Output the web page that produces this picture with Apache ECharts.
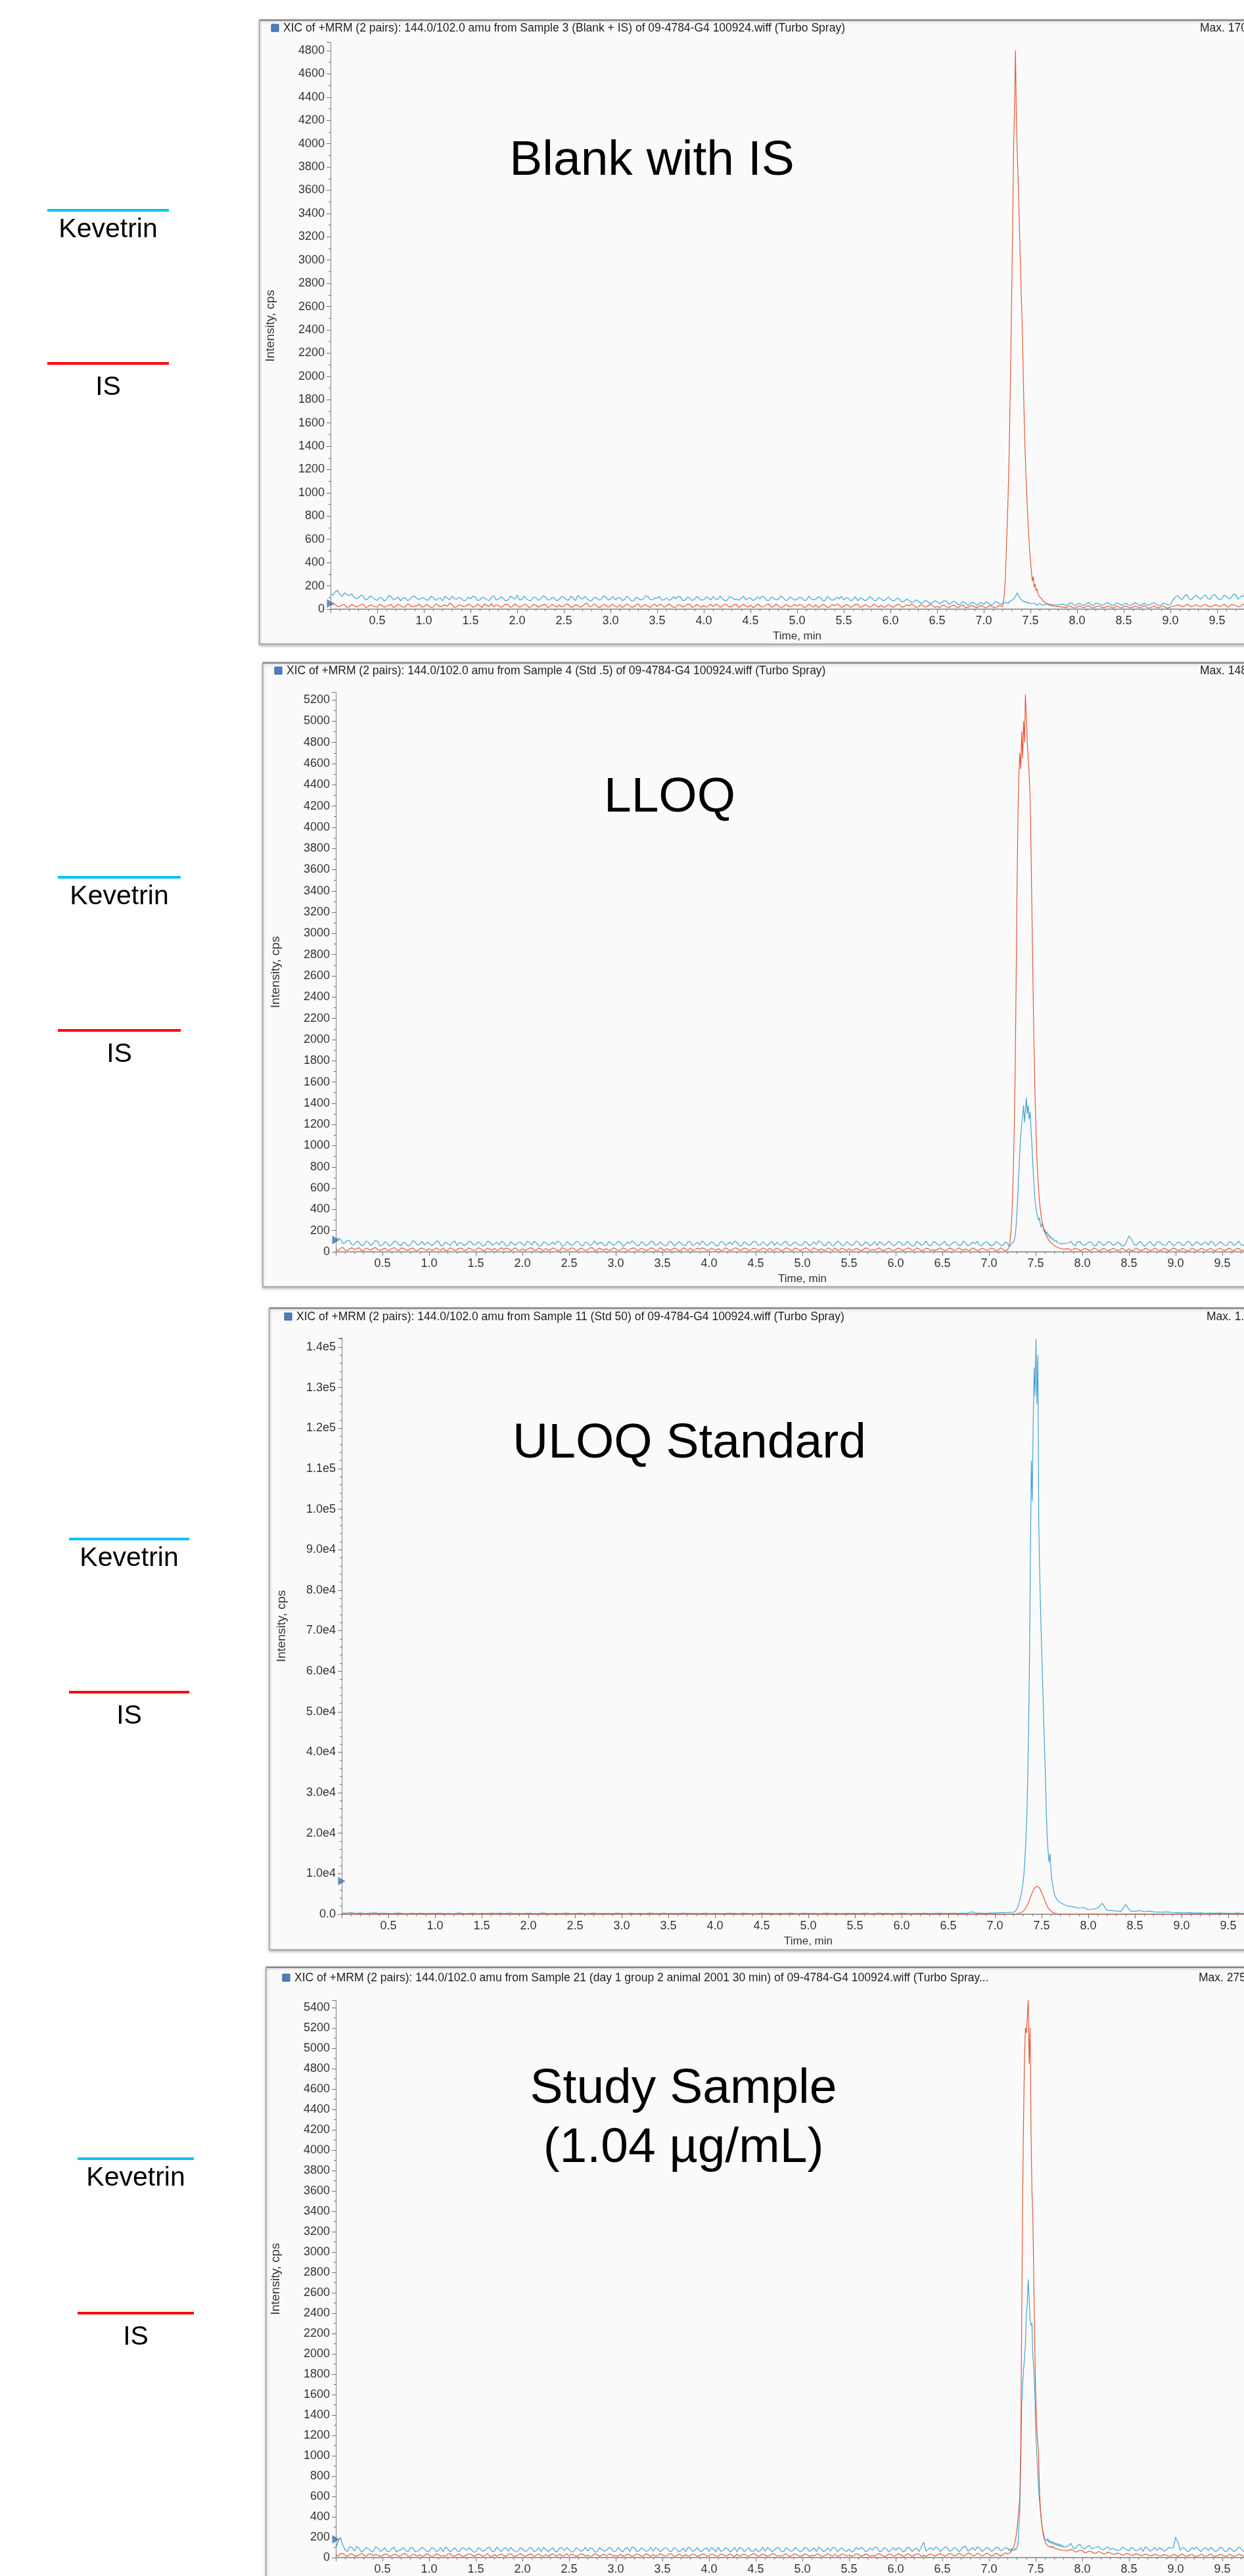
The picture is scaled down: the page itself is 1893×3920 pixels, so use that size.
<!DOCTYPE html>
<html><head><meta charset="utf-8">
<script src="https://cdn.jsdelivr.net/npm/echarts@6/dist/echarts.min.js"></script>
<style>html,body{margin:0;padding:0;background:#fff;overflow:hidden}#c{width:1893px;height:3920px}</style>
</head><body><div id="c"></div><script>
// ---------- sampling of the chromatograms (min) ----------
// baseline points every 0.05 min (from 0), "Mid" arrays are the points half-way between them,
// peak points every 0.01 min from 7.21, tail points every 0.05 min from 7.85
const BASE_START = 0, BASE_STEP = 0.05;
const PEAK_START = 7.21, PEAK_STEP = 0.01;
const TAIL_START = 7.85, TAIL_STEP = 0.05;

// ---------- texts ----------
const panelTitles = [
  'XIC of +MRM (2 pairs): 144.0/102.0 amu from Sample 3 (Blank + IS) of 09-4784-G4 100924.wiff (Turbo Spray)',
  'XIC of +MRM (2 pairs): 144.0/102.0 amu from Sample 4 (Std .5) of 09-4784-G4 100924.wiff (Turbo Spray)',
  'XIC of +MRM (2 pairs): 144.0/102.0 amu from Sample 11 (Std 50) of 09-4784-G4 100924.wiff (Turbo Spray)',
  'XIC of +MRM (2 pairs): 144.0/102.0 amu from Sample 21 (day 1 group 2 animal 2001 30 min) of 09-4784-G4 100924.wiff (Turbo Spray...'
];
const panelMax = ['Max. 170', 'Max. 148', 'Max. 1.4', 'Max. 275'];
const panelLabels = [['Blank with IS'], ['LLOQ'], ['ULOQ Standard'], ['Study Sample', '(1.04 µg/mL)']];
const legendNames = ['Kevetrin', 'IS'];
const xAxisName = 'Time, min';
const yAxisName = 'Intensity, cps';

// ---------- axis ranges ----------
const xRange = [0, 10];
const xTickStep = 0.5;
const yTop = [4870, 5270, 142300, 5470];
const yTickStep = [200, 200, 10000, 200];
const baselineMarker = [15, 75, 7200, 140];

// ---------- Panel 1 : Blank with IS ----------
const p1KevBase = [135,150,128,142,118,104,96,112,88,101,
76,95,82,108,90,72,99,85,113,80,
94,78,102,88,71,97,110,84,92,75,
89,104,80,96,73,115,87,94,78,101,
120,83,91,76,99,86,108,79,93,84,
102,77,96,118,85,90,74,97,82,105,
88,79,100,84,95,72,91,86,109,80,
93,76,98,83,89,104,78,95,86,92,
81,97,110,84,90,76,101,87,95,79,
96,83,88,102,77,93,85,99,80,91,
84,95,78,90,86,101,74,92,83,88,
79,94,85,72,90,81,97,76,87,83,
85,78,82,70,74,62,68,57,64,55,
64,58,70,52,61,47,55,42,50,46,
40,52,44,58,50];
const p1KevBaseMid = [118,162,110,125,131,90,120,80,115,84,
100,70,118,79,104,95,74,108,92,98,
81,112,76,99,110,79,92,101,73,104,
112,75,103,82,100,79,106,71,112,86,
80,112,74,105,77,114,81,103,72,110,
83,112,75,98,110,72,101,80,114,79,
108,95,74,112,70,104,79,113,82,97,
110,82,77,108,112,74,106,73,110,78,
105,78,87,113,72,109,83,76,112,94,
75,108,113,76,105,80,115,75,107,78,
103,75,112,80,106,73,110,77,104,110,
98,71,107,95,73,108,76,100,71,104,
70,97,60,88,58,80,50,76,48,73,
45,72,40,67,38,64,35,60,34,58,
62,35,66,40];
const p1KevPeak = [48,55,44,60,52,47,63,58,70,66,
82,75,96,110,128,140,118,104,92,85,
78,70,64,58,66,52,48,56,45,50,
42,48,38,52,44,40,47,36,43,50,
41,38,46,35,44,40,33,47,39,42,
36,45,40,34,42,38,47,35,41,37];
const p1KevTail = [44,38,50,41,36,47,40,52,38,45,
42,36,48,40,34,46,39,43,37,49,
41,35,44,38,102,96,112,90,105,98,
108,92,117,100,88,112,96,125,104,93,
110,97,120,102];
const p1KevTailMid = [32,55,30,50,33,56,29,48,35,58,
30,54,33,52,31,57,28,50,34,55,
30,52,36,75,118,82,125,80,120,86,
122,85,126,82,120,88,130,84,118,80,
124,88,115];
const p1IsBase = [30,42,25,38,20,33,28,45,22,30,
18,35,27,40,24,31,19,36,26,44,
23,32,17,38,29,25,41,20,34,27,
36,22,30,47,25,19,33,28,40,24,
31,26,38,21,35,29,44,23,30,37,
25,40,20,33,28,52,26,31,22,36,
29,24,39,27,33,20,45,30,25,34,
22,37,28,31,19,35,26,42,24,30,
33,27,21,38,29,34,23,40,28,25,
36,22,31,27,43,24,30,20,35,28,
26,34,21,30,38,25,32,19,29,36,
23,31,27,40,22,33,26,29,35,21,
30,25,37,22,28,34,20,31,26,33,
24,29,20,27,23,31,18,26,22,25,
20,24,18,26,22];
const p1IsBaseMid = [45,20,36,15,40,18,38,14,35,20,
40,16,33,14,42,17,44,20,30,18,
40,14,45,18,36,50,15,38,20,42,
16,44,14,30,48,38,15,42,16,45,
17,43,15,40,17,36,14,42,18,20,
44,16,38,15,42,20,46,14,40,17,
43,18,14,45,16,38,17,41,15,44,
40,16,45,14,38,18,43,15,39,17,
16,42,40,15,44,18,39,14,42,17,
15,45,17,40,16,44,14,38,18,42,
41,15,43,17,14,42,16,39,44,15,
40,14,42,16,38,15,44,17,14,40,
15,42,16,39,44,14,38,17,41,15,
12,36,14,33,11,35,13,30,12,32,
10,30,12,28];
const p1IsPeak = [60,120,250,450,700,950,1250,1700,2200,2750,
3300,4000,4300,4800,4200,3900,3650,3350,3050,2750,
2500,2150,1750,1450,1200,1000,820,650,520,420,
330,240,280,190,215,160,175,130,140,105,
98,90,78,70,62,55,50,44,40,36,
33,30,28,25,27,22,24,20,23,19];
const p1IsTail = [18,22,15,20,17,24,14,19,21,16,
20,13,18,22,15,19,17,23,14,18,
16,21,13,19,28,33,26,35,30,27,
34,29,25,36,30,27,38,31,26,33,
29,35,28,32];
const p1IsTailMid = [12,28,10,26,13,30,11,27,12,25,
11,28,10,25,12,27,11,30,10,26,
11,27,9,24,36,22,40,21,38,23,
41,20,37,22,42,19,39,21,43,20,
38,22,40];

// ---------- Panel 2 : LLOQ ----------
const p2KevBase = [98,120,85,104,72,91,66,88,79,95,
62,84,71,97,58,80,69,92,75,64,
86,70,101,63,78,90,57,83,72,95,
68,81,60,94,74,66,88,59,77,85,
71,99,64,82,58,87,73,68,91,62,
79,70,93,56,84,75,66,89,61,80,
73,92,65,78,86,60,82,71,97,67,
76,63,88,70,81,59,94,72,65,85,
69,83,61,90,74,68,87,57,79,72,
95,66,78,84,60,73,89,64,82,70,
62,86,75,68,93,58,80,71,88,65,
77,69,91,63,84,72,60,86,74,81,
67,90,70,79,58,85,73,66,92,69,
80,64,76,88,61,83,70,75,59,87,
72,66,84,61,78];
const p2KevBaseMid = [130,78,110,62,100,58,102,60,110,56,
96,55,100,64,93,54,105,62,98,88,
58,98,55,92,60,104,88,58,99,64,
95,54,101,62,90,100,55,97,61,93,
57,90,100,56,95,63,92,101,55,96,
60,98,62,94,57,103,88,59,97,63,
99,55,94,104,60,97,58,100,62,95,
58,101,56,96,63,99,57,92,104,60,
97,56,99,61,93,102,58,95,60,100,
62,96,55,98,91,60,101,57,94,63,
99,57,94,103,61,96,55,100,59,97,
60,102,58,95,57,99,92,60,101,56,
96,59,100,55,97,62,103,56,94,61,
99,58,95,60,102,57,93,100,62,96,
58,98,60,94];
const p2KevPeak = [60,72,55,80,68,90,110,150,240,380,
560,760,950,1100,1200,1280,1380,1220,1330,1450,
1300,1380,1250,1320,1150,1000,820,650,520,430,
380,330,300,320,260,230,270,230,190,210,
170,190,150,165,130,145,120,110,125,100,
95,108,88,100,82,94,78,90,75,86];
const p2KevTail = [82,70,95,64,78,88,61,84,72,90,
67,79,58,150,74,86,63,80,69,92,
75,62,88,71,83,66,94,70,79,85,
63,90,72,81,60,87,74,68,93,71,
84,66,79,88];
const p2KevTailMid = [100,58,97,62,95,56,101,60,98,64,
94,57,99,120,60,97,55,100,58,96,
62,101,56,95,60,99,57,97,63,94,
100,56,96,61,98,58,102,60,95,57,
99,62,96];
const p2IsBase = [28,35,18,30,22,40,15,26,33,20,
24,17,31,21,36,19,27,14,29,23,
32,18,25,38,16,28,21,34,19,26,
20,30,15,27,35,22,18,31,24,17,
29,21,37,16,25,33,19,28,14,30,
22,34,18,26,20,39,17,24,31,19,
27,16,30,23,35,18,25,21,33,15,
24,31,19,28,17,26,36,20,23,29,
18,25,32,16,27,21,34,19,30,22,
26,19,28,35,17,24,20,31,16,27,
21,33,18,25,29,15,26,38,20,23,
30,17,24,19,32,22,28,16,25,20,
19,27,22,34,18,26,15,29,21,24,
25,18,30,20,23,28,16,24,19,26,
21,27,17,23,20];
const p2IsBaseMid = [12,42,14,38,30,12,36,16,40,13,
35,14,40,12,33,15,38,12,36,14,
13,37,15,12,39,14,35,13,37,15,
38,12,36,14,13,40,35,12,38,14,
13,36,15,38,12,14,37,13,40,15,
37,13,35,14,38,12,36,15,13,39,
14,38,12,36,15,34,13,37,14,40,
13,15,36,12,38,14,12,35,38,14,
36,12,14,37,13,38,15,36,12,35,
14,37,13,15,36,12,38,14,37,13,
36,14,39,12,15,37,13,14,36,12,
14,35,12,37,13,15,38,12,36,14,
37,13,36,15,38,12,35,14,13,37,
12,36,14,38,13,15,37,12,35,14,
36,13,38,12];
const p2IsPeak = [40,70,140,260,450,750,1150,1700,2500,3400,
4100,4500,4700,4550,4900,4650,5000,4800,5250,5050,
4800,4650,4500,4300,3800,3200,2600,2050,1600,1250,
950,760,600,480,400,330,280,240,210,180,
160,140,125,110,100,90,80,72,65,58,
52,48,44,40,37,34,31,29,27,25];
const p2IsTail = [30,22,26,18,24,20,27,16,22,19,
25,17,21,28,15,23,19,26,18,22,
16,24,20,27,18,22,15,25,19,23,
21,17,26,20,24,18,28,16,22,25,
19,23,17,21];
const p2IsTailMid = [14,35,12,33,13,36,11,34,12,32,
13,34,11,12,35,13,33,12,36,11,
34,12,35,13,32,11,36,12,33,14,
35,12,34,13,36,11,33,14,35,12,
34,13,36];

// ---------- Panel 3 : ULOQ Standard ----------
const p3KevBase = [350,280,420,240,310,190,260,330,210,280,
240,180,300,220,160,270,200,250,170,230,
210,280,190,240,160,300,220,180,260,200,
230,170,280,210,250,190,320,200,240,180,
260,210,170,290,220,190,240,170,280,230,
200,250,180,220,270,190,230,210,180,260,
220,190,260,200,240,170,280,210,190,250,
180,230,200,270,210,240,190,220,260,200,
240,200,180,250,220,190,270,230,200,180,
260,210,240,190,230,200,280,220,180,250,
210,240,190,220,260,200,230,180,240,210,
230,200,250,210,190,270,220,240,200,230,
250,210,190,240,220,270,200,230,260,210,
240,280,220,260,230,600,250,280,240,300,
320,380,420,460,520];
const p3KevPeak = [600,750,1000,1500,2200,3000,3800,4800,6000,7500,
9800,13000,17500,23000,32000,45000,62000,88000,112000,102000,
121000,135000,128000,142000,126000,138000,96000,84000,74000,66000,
58000,50000,42000,35000,26000,19000,15500,12800,15000,11000,
8500,7000,5600,4800,4200,3900,3500,3300,3000,3100,
2800,2900,2500,2700,2300,2500,2100,2400,2000,2200];
const p3KevTail = [1800,1500,1700,1100,1300,1500,2700,1000,900,800,
700,2400,800,700,900,650,800,600,550,500,
600,450,400,380,350,400,300,350,280,300,
260,320,250,280,240,300,230,260,220,250,
210,240,200,230];
const p3IsBase = [80,55,95,60,75,45,70,90,50,65,
60,85,40,70,55,80,50,65,75,45,
70,50,85,60,40,75,65,55,80,50,
55,75,45,70,60,85,50,65,40,70,
65,45,80,55,70,50,75,60,85,45,
60,70,50,80,45,65,55,75,50,70,
50,65,75,45,70,60,80,55,65,50,
75,55,60,85,50,70,45,65,80,55,
45,70,65,50,75,55,85,60,50,70,
65,50,80,60,45,75,55,70,60,85,
55,75,45,65,70,50,80,55,65,45,
70,55,60,75,50,85,45,70,60,65,
60,80,50,65,55,70,45,75,60,55,
75,50,70,55,65,45,80,60,50,70,
55,65,50,70,60];
const p3IsPeak = [60,80,100,130,170,230,300,400,520,680,
880,1150,1500,1900,2400,2950,3550,4150,4750,5300,
5800,6250,6600,6850,6950,6900,6700,6350,5900,5400,
4850,4250,3650,3100,2550,2050,1650,1300,1000,760,
580,440,340,260,200,160,130,110,95,85,
80,72,68,64,60,58,56,54,52,50];
const p3IsTail = [48,55,42,60,45,52,40,58,46,50,
44,56,40,52,47,60,42,50,45,55,
41,53,46,58,43,50,48,55,40,52,
47,57,42,51,45,59,44,53,40,50,
46,55,43,52];

// ---------- Panel 4 : Study Sample ----------
const p4KevBase = [90,200,78,110,64,92,70,85,58,96,
73,61,88,54,80,67,99,59,76,84,
62,91,70,57,86,74,63,95,68,79,
55,83,72,101,60,77,89,64,74,58,
87,66,93,71,56,82,75,61,97,69,
78,59,85,72,64,90,57,81,70,94,
63,76,88,58,99,67,80,71,61,86,
74,95,62,83,69,57,91,76,65,88,
60,79,102,68,84,72,56,93,77,64,
89,70,61,85,74,97,59,81,68,78,
66,92,75,58,87,71,63,96,80,69,
84,62,78,91,67,73,100,64,86,75,
71,88,65,94,79,60,150,83,72,97,
76,102,68,89,74,110,81,70,95,78,
88,72,99,80,92];
const p4KevBaseMid = [160,120,60,98,110,55,100,62,105,60,
97,58,101,70,99,56,94,63,102,57,
96,60,99,104,57,98,61,93,100,56,
99,62,95,60,104,58,96,100,59,97,
61,100,57,96,103,60,98,57,94,100,
58,97,62,101,95,56,99,63,97,58,
100,56,99,104,58,96,61,102,98,57,
96,60,100,57,95,103,58,99,61,94,
100,57,62,98,56,101,96,58,99,62,
57,103,99,56,96,60,98,62,101,57,
99,60,96,103,58,97,100,56,95,61,
57,100,98,58,95,103,60,97,56,99,
98,57,101,60,96,105,62,99,104,58,
102,64,100,58,106,62,99,104,60,100,
63,101,66,98];
const p4KevPeak = [70,85,62,90,75,80,68,92,78,95,
130,300,480,900,1500,1700,1850,1950,2100,2380,
2500,2730,2540,2340,2280,2300,1980,1850,1670,1270,
1050,880,700,560,480,380,285,250,210,180,
180,165,190,150,170,140,160,135,155,125,
145,120,140,115,135,110,128,105,120,100];
const p4KevTail = [115,98,120,92,105,86,100,82,95,78,
80,71,96,65,85,74,60,90,77,68,
86,73,94,200,70,88,65,82,76,91,
67,84,72,98,63,80,74,89,61,85,
76,92,68,84];
const p4KevTailMid = [140,90,130,85,118,95,110,76,104,92,
68,99,75,102,66,98,104,62,100,96,
62,101,98,150,100,60,99,104,58,97,
100,56,101,60,97,58,103,62,99,95,
60,99,57];
const p4IsBase = [30,40,22,35,18,28,24,33,15,26,
20,31,17,27,23,36,14,25,29,19,
24,16,30,21,34,18,27,13,25,32,
19,28,23,15,31,26,20,35,17,24,
27,18,33,22,16,29,25,19,36,21,
15,26,20,31,24,17,28,22,14,30,
23,34,18,25,20,29,16,27,32,19,
28,21,35,17,24,30,19,26,22,33,
20,27,16,29,23,18,34,25,21,28,
31,19,25,22,36,20,27,17,30,24,
18,29,23,33,16,26,21,35,19,27,
25,20,32,18,28,22,30,24,17,34,
22,31,19,27,25,35,20,28,23,30,
29,24,36,21,33,26,38,22,30,27,
34,25,31,28,36];
const p4IsBaseMid = [15,38,12,36,14,40,13,37,30,12,
36,14,34,12,38,13,35,14,12,37,
13,36,15,12,38,14,35,12,37,14,
36,13,38,12,15,36,12,37,14,38,
13,35,12,36,14,12,38,15,13,37,
36,12,38,14,13,37,12,35,36,14,
12,15,37,13,36,14,38,12,15,37,
14,38,12,36,13,15,37,12,36,14,
37,13,35,14,38,12,15,36,13,38,
14,36,12,37,15,13,38,12,36,14,
37,12,15,36,13,38,14,12,37,15,
12,37,14,36,13,15,38,12,35,14,
36,13,38,12,37,14,12,36,15,38,
14,40,16,42,15,44,17,43,16,45,
15,44,17,46];
const p4IsPeak = [40,45,50,60,75,95,120,160,210,280,
380,470,600,1100,2300,3500,4300,4900,5200,5150,
5300,5480,4850,5200,4200,3600,3350,2700,2100,1600,
1300,1150,1050,700,480,370,290,230,190,160,
140,125,130,110,120,100,115,95,108,90,
100,88,96,82,92,78,86,74,82,70];
const p4IsTail = [68,75,60,66,52,58,46,50,40,45,
33,38,28,35,25,31,22,29,20,26,
18,24,15,22,28,17,25,14,21,19,
23,16,20,26,14,22,18,25,15,21,
19,24,16,22];
const p4IsTailMid = [80,55,72,48,64,42,60,38,54,34,
45,24,42,22,38,20,35,18,33,16,
30,14,33,12,35,13,32,11,34,13,
36,12,33,14,35,11,34,13,32,12,
35,13,33];

// ---------- assemble [time, intensity] pairs ----------
function interleave(a, b) {
  const out = [];
  a.forEach((v, i) => { out.push(v); if (b && i < b.length) out.push(b[i]); });
  return out;
}
function seg(start, step, vals) { return vals.map((v, i) => [+(start + i * step).toFixed(3), v]); }
function trace(base, baseMid, peak, tail, tailMid) {
  const bStep = baseMid ? BASE_STEP / 2 : BASE_STEP;
  const tStep = tailMid ? TAIL_STEP / 2 : TAIL_STEP;
  return seg(BASE_START, bStep, interleave(base, baseMid))
    .concat(seg(PEAK_START, PEAK_STEP, peak), seg(TAIL_START, tStep, interleave(tail, tailMid)));
}
const kevetrin = [
  trace(p1KevBase, p1KevBaseMid, p1KevPeak, p1KevTail, p1KevTailMid),
  trace(p2KevBase, p2KevBaseMid, p2KevPeak, p2KevTail, p2KevTailMid),
  trace(p3KevBase, null, p3KevPeak, p3KevTail, null),
  trace(p4KevBase, p4KevBaseMid, p4KevPeak, p4KevTail, p4KevTailMid)
];
const internalStd = [
  trace(p1IsBase, p1IsBaseMid, p1IsPeak, p1IsTail, p1IsTailMid),
  trace(p2IsBase, p2IsBaseMid, p2IsPeak, p2IsTail, p2IsTailMid),
  trace(p3IsBase, null, p3IsPeak, p3IsTail, null),
  trace(p4IsBase, p4IsBaseMid, p4IsPeak, p4IsTail, p4IsTailMid)
];

// ---------- layout (pixels) ----------
const FONT = 'Liberation Sans, Arial, sans-serif';
const KEV_COLOR = '#44a3d5';
const IS_COLOR = '#ea5636';
const L = [
  {fx:395, fy:30, fh:950, ty:43, sq:413, gl:503, gt:64.6, gh:862.4, mx:1826, bx:992, by:[245], lx1:72, lx2:257, ky:320, iy:553},
  {fx:400, fy:1008, fh:950, ty:1021, sq:418, gl:511, gt:1053.7, gh:851.3, mx:1826, bx:1019, by:[1214], lx1:88, lx2:275, ky:1335, iy:1568},
  {fx:410, fy:1990, fh:977, ty:2004, sq:433, gl:520, gt:2035.8, gh:877.2, mx:1836, bx:1049, by:[2197], lx1:105, lx2:288, ky:2342, iy:2575},
  {fx:405, fy:2993, fh:1000, ty:3010, sq:430, gl:511, gt:3044.1, gh:847.9, mx:1824, bx:1040, by:[3179, 3269], lx1:118, lx2:295, ky:3285, iy:3520}
];

function sci(v) {
  if (v === 0) return '0.0';
  const e = Math.floor(Math.log10(v) + 1e-9);
  return (v / Math.pow(10, e)).toFixed(1) + 'e' + e;
}

const grids = [], xAxes = [], yAxes = [], series = [], graphics = [];
L.forEach((g, p) => {
  grids.push({left: g.gl, top: g.gt, width: 1420, height: g.gh, containLabel: false, outerBoundsMode: 'none'});
  xAxes.push({
    type: 'value', gridIndex: p, min: xRange[0], max: xRange[1], interval: xTickStep,
    axisLine: {onZero: false, lineStyle: {color: '#a0a0a0', width: 2}},
    axisTick: {length: 6, lineStyle: {color: '#707070'}},
    minorTick: {show: true, splitNumber: 5, length: 3, lineStyle: {color: '#707070'}},
    splitLine: {show: false}, minorSplitLine: {show: false},
    axisLabel: {fontFamily: FONT, fontSize: 18, color: '#333', margin: 9,
      formatter: v => (v === 0 ? '' : v.toFixed(1))},
    name: xAxisName, nameLocation: 'middle', nameGap: 33,
    nameTextStyle: {fontFamily: FONT, fontSize: 17, color: '#333'}
  });
  const step = yTickStep[p];
  yAxes.push({
    type: 'value', gridIndex: p, min: 0, max: yTop[p], interval: step,
    axisLine: {show: true, lineStyle: {color: '#808080', width: 1}},
    axisTick: {show: true, length: 6, lineStyle: {color: '#707070'}},
    minorTick: {show: true, splitNumber: p === 2 ? 5 : 2, length: 3, lineStyle: {color: '#707070'}},
    splitLine: {show: false}, minorSplitLine: {show: false},
    axisLabel: {fontFamily: FONT, fontSize: 18, color: '#333', margin: 9,
      formatter: v => (Math.abs(v % step) > 1e-6 ? '' : (p === 2 ? sci(v) : String(v)))},
    name: yAxisName, nameLocation: 'middle', nameGap: 82, nameRotate: 90,
    nameTextStyle: {fontFamily: FONT, fontSize: 19, color: '#333'}
  });
  series.push({type: 'line', xAxisIndex: p, yAxisIndex: p, name: legendNames[0], data: kevetrin[p],
    showSymbol: false, symbol: 'none', animation: false, z: 2,
    lineStyle: {color: KEV_COLOR, width: 1.2}, itemStyle: {color: KEV_COLOR}});
  series.push({type: 'line', xAxisIndex: p, yAxisIndex: p, name: legendNames[1], data: internalStd[p],
    showSymbol: false, symbol: 'none', animation: false, z: 3,
    lineStyle: {color: IS_COLOR, width: 1.2}, itemStyle: {color: IS_COLOR}});
  series.push({type: 'scatter', xAxisIndex: p, yAxisIndex: p, data: [[0, baselineMarker[p]]],
    symbol: 'triangle', symbolSize: [13, 11], symbolRotate: -90, symbolOffset: [0, -6], clip: false,
    animation: false, z: 6, itemStyle: {color: '#3b74b0'}});

  // frame
  graphics.push({type: 'rect', z: -10, shape: {x: g.fx, y: g.fy, width: 1700, height: g.fh},
    style: {fill: '#fafafa', stroke: '#a3a3a3', lineWidth: 1.5, shadowBlur: 4, shadowColor: 'rgba(0,0,0,0.3)', shadowOffsetY: 2}});
  graphics.push({type: 'line', z: -9, shape: {x1: g.fx, y1: g.fy + 1, x2: g.fx + 1700, y2: g.fy + 1},
    style: {stroke: '#8a8a8a', lineWidth: 2}});
  // title line
  graphics.push({type: 'rect', z: 10, shape: {x: g.sq, y: g.ty - 6, width: 11, height: 11},
    style: {fill: '#4a7fc0', stroke: '#2f5a90', lineWidth: 1}});
  graphics.push({type: 'text', z: 10, x: g.sq + 18, y: g.ty,
    style: {text: panelTitles[p], font: '17.5px ' + FONT, fill: '#222', verticalAlign: 'middle', align: 'left'}});
  graphics.push({type: 'text', z: 10, x: g.mx, y: g.ty,
    style: {text: panelMax[p], font: '17.5px ' + FONT, fill: '#222', verticalAlign: 'middle', align: 'left'}});
  // big panel label
  panelLabels[p].forEach((t, i) => graphics.push({type: 'text', z: 10, x: g.bx, y: g.by[i],
    style: {text: t, font: '75px ' + FONT, fill: '#000', align: 'center', verticalAlign: 'middle'}}));
  // legend
  graphics.push({type: 'line', z: 10, shape: {x1: g.lx1, y1: g.ky, x2: g.lx2, y2: g.ky},
    style: {stroke: '#00c4f4', lineWidth: 4}});
  graphics.push({type: 'text', z: 10, x: (g.lx1 + g.lx2) / 2, y: g.ky + 30,
    style: {text: legendNames[0], font: '41px ' + FONT, fill: '#000', align: 'center', verticalAlign: 'middle'}});
  graphics.push({type: 'line', z: 10, shape: {x1: g.lx1, y1: g.iy, x2: g.lx2, y2: g.iy},
    style: {stroke: '#ff0000', lineWidth: 4}});
  graphics.push({type: 'text', z: 10, x: (g.lx1 + g.lx2) / 2, y: g.iy + 37,
    style: {text: legendNames[1], font: '41px ' + FONT, fill: '#000', align: 'center', verticalAlign: 'middle'}});
});

const chart = echarts.init(document.getElementById('c'), null, {renderer: 'canvas'});
chart.setOption({
  animation: false,
  backgroundColor: '#ffffff',
  textStyle: {fontFamily: FONT},
  grid: grids, xAxis: xAxes, yAxis: yAxes, series: series,
  graphic: {elements: graphics}
});
</script></body></html>
